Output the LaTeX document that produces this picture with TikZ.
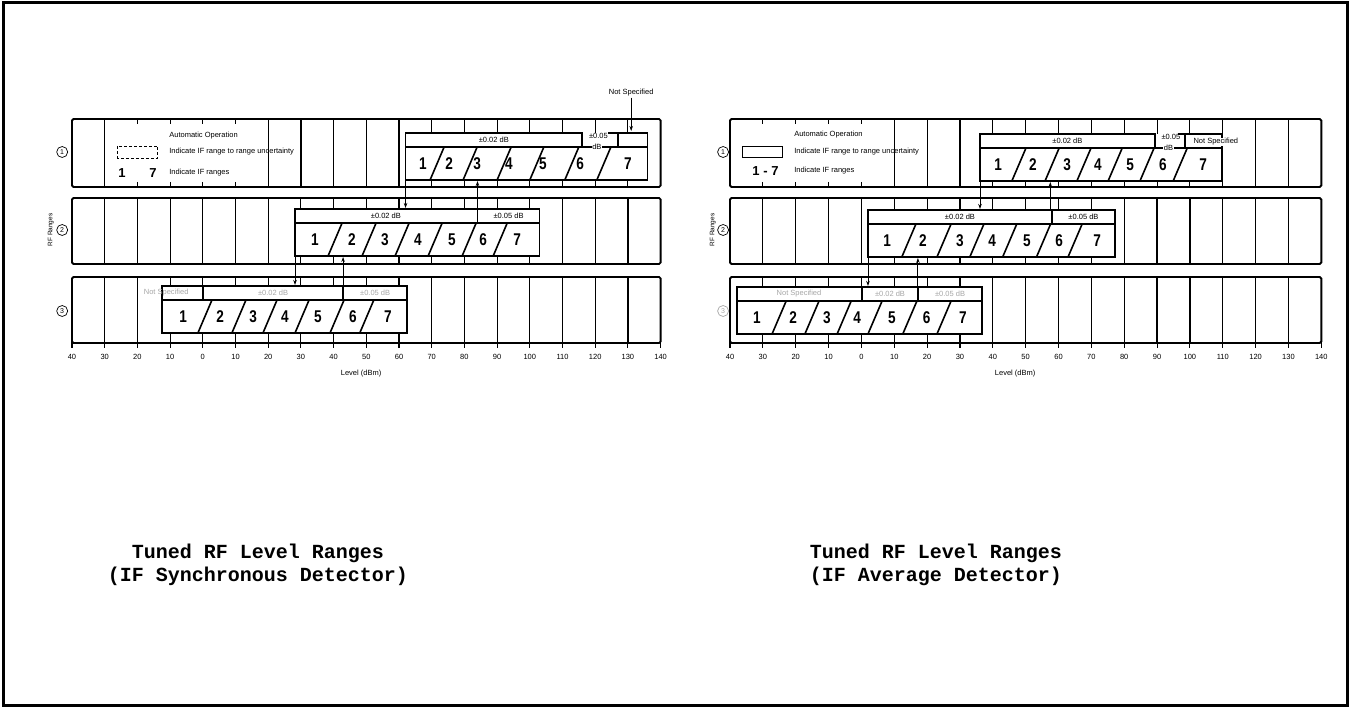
\documentclass[tikz,border=0pt]{standalone}
\usepackage{fontspec}
\usepackage{graphicx}
\setmainfont{Liberation Sans}
\newfontfamily\typefont{Liberation Mono}
\usetikzlibrary{arrows.meta}

% range box: name, label top, left, right, slant bottoms, digit positions
\newcommand{\rangebox}[6]{%
  \draw[boxline] (#3,#2+14) rectangle (#4,#2+47);
  \foreach \s in {#5} \draw[boxline, line width=1.6pt] (\s,#2+47) -- (\s+4.3,#2+14);
  \foreach \d [count=\k] in {#6} \node[digit] (#1\k) at (\d,#2+31) {\scalebox{0.8}[1]{\k}};
}
% short marks above and below a box or the legend
\newcommand{\rowticks}[5]{%
  \foreach \v in {#1} {\draw[tickline] (\v,#2) -- (\v,#3); \draw[tickline] (\v,#4) -- (\v,#5);}
}
% three rows and the level scale
\newcommand{\rowframes}{%
  \foreach \rt/\rb in {119/187,198/264,277/343} \draw[rowline] (-40,\rt) rectangle (140,\rb);
  \foreach \v in {-40,-30,...,140} {%
    \draw[tickline] (\v,340) -- (\v,348);
    \pgfmathtruncatemacro\lv{abs(\v)}
    \node[axislbl] (ax\v) at (\v,357) {\lv};
  }
}

\begin{document}
\begin{tikzpicture}[x=1pt, y=-1pt, >={Stealth[length=5pt,width=3.5pt]},
  rowline/.style={line width=1.9pt, rounded corners=1.5pt},
  gridline/.style={line width=1.2pt},
  tickline/.style={line width=1.1pt},
  boxline/.style={line width=1.4pt},
  digit/.style={font=\fontsize{17}{17}\selectfont\bfseries, inner sep=0pt},
  lbl/.style={font=\fontsize{7.5}{8}\selectfont, inner sep=1pt},
  faint/.style={lbl, text=black!35},
  axislbl/.style={font=\fontsize{7.5}{8}\selectfont, inner sep=0pt},
  circnum/.style={circle, draw, line width=0.7pt, minimum size=11pt, inner sep=0pt, font=\fontsize{7}{7}\selectfont},
  switch/.style={->, line width=0.9pt},
  titletext/.style={font=\typefont\bfseries\fontsize{20}{23}\selectfont, align=center}]
\useasboundingbox (0,0) rectangle (1350,708);
\draw[line width=3pt] (3,3) rectangle (1347,705);

% ---- IF synchronous detector
\begin{scope}[shift={(202.8,0)}, x=3.27pt]
\rowframes
% range 1
\foreach \v in {-30,20,30,...,60} \draw[gridline] (\v,119) -- (\v,187);
\rowticks{-20,-10,0,10}{119}{124}{182}{187}
\rowticks{70,80,...,130}{119}{133}{180}{187}
\rangebox{La}{133}{62}{136}{69.5,79.6,90,100,110.7,120.5}{67.3,75.3,83.9,93.6,104,115.4,130}
\draw[boxline] (62,147) |- (116,133) -- (116,147);
\draw[boxline] (124,133) -| (136,147);
\draw[boxline] (127,133) -- (127,147);
\node[lbl] (La02) at (89,140) {±0.02 dB};
\node[lbl] (La05) at (121,136) {±0.05};
\node[lbl, fill=white, inner sep=0.5pt] (LadB) at (120.5,147) {dB};
\node[lbl] (LaNS) at (131,93) {Not Specified};
\coordinate (LaNSend) at (131,131);
\draw[switch] (LaNS.south) -- (LaNSend);
% legend
\draw[line width=0.8pt, densely dashed] (-26,146) rectangle (-13.8,158);
\node[lbl, anchor=west] (Lauto) at (-10.6,136) {Automatic Operation};
\node[lbl, anchor=west] (Lunc) at (-10.6,152) {Indicate IF range to range uncertainty};
\node[digit, font=\fontsize{13}{13}\selectfont\bfseries] (Lk1) at (-24.7,173) {1};
\node[digit, font=\fontsize{13}{13}\selectfont\bfseries] (Lk7) at (-15.2,173) {7};
\node[lbl, anchor=west] (Lifr) at (-10.6,173) {Indicate IF ranges};
% range 2
\foreach \v in {-30,-20,...,20,110,120,130} \draw[gridline] (\v,198) -- (\v,264);
\rowticks{30,40,...,100}{198}{209}{256}{264}
\rangebox{Lb}{209}{28.2}{103}{38.3,48.7,58.8,68.9,79.3,88.8}{34.3,45.6,55.7,65.8,76.2,85.7,96.1}
\draw[boxline] (28.2,223) |- (103,209) -- (103,223);
\draw[boxline] (84,209) -- (84,223);
\node[lbl] (Lb02) at (56,216) {±0.02 dB};
\node[lbl] (Lb05) at (93.5,216) {±0.05 dB};
% range 3
\foreach \v in {-30,-20,70,80,...,130} \draw[gridline] (\v,277) -- (\v,343);
\rowticks{-10,0,...,60}{277}{286}{333}{343}
\rangebox{Lc}{286}{-12.5}{62.5}{-1.5,8.9,18.4,28.2,38.9,48}{-6,5.3,15.4,25.1,35.2,45.9,56.6}
\draw[boxline] (-12.5,300) |- (62.5,286) -- (62.5,300);
\draw[boxline] (0,286) -- (0,300);
\draw[boxline] (42.9,286) -- (42.9,300);
\node[faint] (LcNS) at (-11.2,293) {Not Specified};
\node[faint] (Lc02) at (21.5,293) {±0.02 dB};
\node[faint] (Lc05) at (52.7,293) {±0.05 dB};
% switching between ranges
\coordinate (L12a) at (62,180); \coordinate (L12b) at (62,208);
\coordinate (L21a) at (84,208); \coordinate (L21b) at (84,181);
\coordinate (L23a) at (28.2,256); \coordinate (L23b) at (28.2,285);
\coordinate (L32a) at (42.9,285); \coordinate (L32b) at (42.9,257);
\draw[switch] (L12a) -- (L12b);
\draw[switch] (L21a) -- (L21b);
\draw[switch] (L23a) -- (L23b);
\draw[switch] (L32a) -- (L32b);
% side labels
\node[circnum] (Ln1) at (-43,152) {1};
\node[circnum] (Ln2) at (-43,230) {2};
\node[circnum] (Ln3) at (-43,311) {3};
\node[lbl, rotate=90, font=\fontsize{6.5}{7}\selectfont] (Lrf) at (-46.5,230) {RF Ranges};
\node[lbl] (Llev) at (48.4,374) {Level (dBm)};
\end{scope}

% ---- IF average detector
\begin{scope}[shift={(861.4,0)}, x=3.285pt]
\rowframes
% range 1
\foreach \v in {10,20,30,120,130} \draw[gridline] (\v,119) -- (\v,187);
\rowticks{-30,-20,-10,0}{119}{124}{182}{187}
\rowticks{40,50,...,110}{119}{134}{181}{187}
\rangebox{Ra}{134}{36.1}{109.8}{45.8,55.9,65.6,75.1,84.8,94.9}{41.6,52.2,62.6,72,81.8,91.8,104}
\draw[boxline] (36.1,148) |- (89.4,134) -- (89.4,148);
\draw[boxline] (96.5,134) -| (109.8,148);
\draw[boxline] (98.5,134) -- (98.5,148);
\node[lbl] (Ra02) at (62.7,141) {±0.02 dB};
\node[lbl] (Ra05) at (94.2,137) {±0.05};
\node[lbl, fill=white, inner sep=0.5pt] (RadB) at (93.5,148) {dB};
\node[lbl, anchor=west, fill=white, inner sep=0.5pt] (RaNS) at (100.9,142) {Not Specified};
% legend
\draw[line width=0.8pt] (-36.1,146) rectangle (-23.9,157);
\node[lbl, anchor=west] (Rauto) at (-20.8,135) {Automatic Operation};
\node[lbl, anchor=west] (Runc) at (-20.8,152) {Indicate IF range to range uncertainty};
\node[digit, font=\fontsize{13}{13}\selectfont\bfseries] (Rk) at (-29.2,171) {1 - 7};
\node[lbl, anchor=west] (Rifr) at (-20.8,171) {Indicate IF ranges};
% range 2
\foreach \v in {-30,-20,...,0,80,90,...,130} \draw[gridline] (\v,198) -- (\v,264);
\rowticks{10,20,...,70}{198}{210}{257}{264}
\rangebox{Rb}{210}{2}{77.2}{12.3,23,33,43,53.3,62.9}{7.8,18.7,30,39.8,50.4,60.2,71.8}
\draw[boxline] (2,224) |- (77.2,210) -- (77.2,224);
\draw[boxline] (58,210) -- (58,224);
\node[lbl] (Rb02) at (30,217) {±0.02 dB};
\node[lbl] (Rb05) at (67.6,217) {±0.05 dB};
% range 3
\foreach \v in {40,50,...,130} \draw[gridline] (\v,277) -- (\v,343);
\rowticks{-30,-20,...,30}{277}{287}{334}{343}
\rangebox{Rc}{287}{-37.9}{36.7}{-27.2,-17.2,-7.4,2,12.6,23}{-31.8,-20.8,-10.5,-1.3,9.3,19.9,30.9}
\draw[boxline] (-37.9,301) |- (36.7,287) -- (36.7,301);
\draw[boxline] (0.2,287) -- (0.2,301);
\draw[boxline] (17.2,287) -- (17.2,301);
\node[faint] (RcNS) at (-19,294) {Not Specified};
\node[faint] (Rc02) at (8.7,294) {±0.02 dB};
\node[faint] (Rc05) at (27,294) {±0.05 dB};
% switching between ranges
\coordinate (R12a) at (36.1,181); \coordinate (R12b) at (36.1,209);
\coordinate (R21a) at (57.5,209); \coordinate (R21b) at (57.5,182);
\coordinate (R23a) at (2,257); \coordinate (R23b) at (2,286);
\coordinate (R32a) at (17.2,286); \coordinate (R32b) at (17.2,258);
\draw[switch] (R12a) -- (R12b);
\draw[switch] (R21a) -- (R21b);
\draw[switch] (R23a) -- (R23b);
\draw[switch] (R32a) -- (R32b);
% side labels
\node[circnum] (Rn1) at (-42.1,152) {1};
\node[circnum] (Rn2) at (-42.1,230) {2};
\node[circnum, draw=black!35, text=black!35] (Rn3) at (-42.1,311) {3};
\node[lbl, rotate=90, font=\fontsize{6.5}{7}\selectfont] (Rrf) at (-45.2,230) {RF Ranges};
\node[lbl] (Rlev) at (46.8,374) {Level (dBm)};
\end{scope}

% ---- captions
\node[titletext] (Ltitle) at (258,564.5) {Tuned RF Level Ranges\\(IF Synchronous Detector)};
\node[titletext] (Rtitle) at (936,564.5) {Tuned RF Level Ranges\\(IF Average Detector)};
\end{tikzpicture}
\end{document}
